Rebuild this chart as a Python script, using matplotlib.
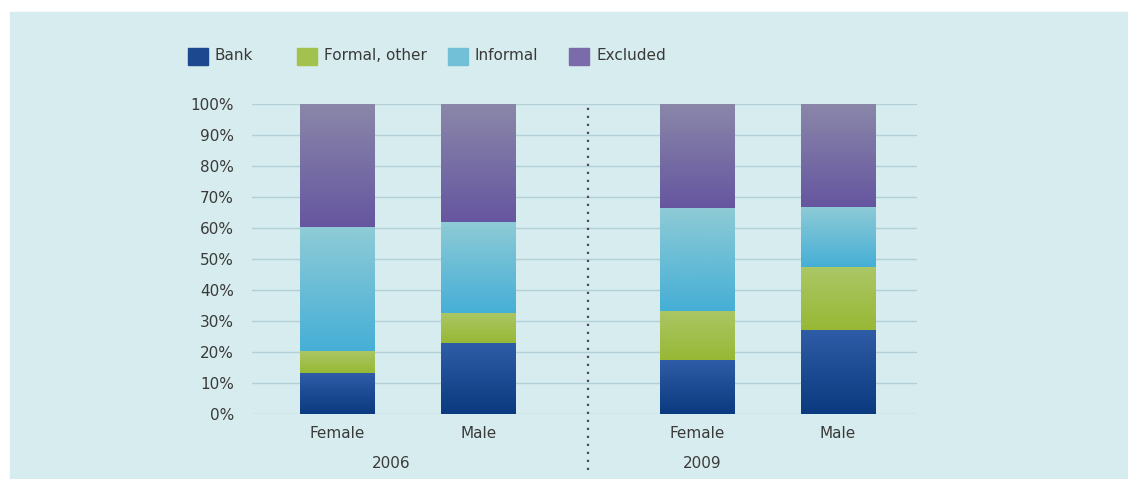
import numpy as np
import matplotlib.pyplot as plt
from matplotlib.patches import Rectangle
from matplotlib.colors import LinearSegmentedColormap

# data (percent of adults)
years = ['2006', '2009']
genders = ['Female', 'Male', 'Female', 'Male']
bank = [13.2, 22.9, 17.4, 27.1]
formal_other = [7.2, 9.7, 15.9, 20.2]
informal = [39.9, 29.4, 33.0, 19.4]
excluded = [39.7, 38.0, 33.7, 33.3]

series = [('Bank', bank), ('Formal, other', formal_other),
          ('Informal', informal), ('Excluded', excluded)]
# (top colour, bottom colour) for the gradient fill of each series
grad = {
    'Bank': ('#2f5ca6', '#0b3a80'),
    'Formal, other': ('#abc766', '#97b835'),
    'Informal': ('#8ecbd6', '#46afd6'),
    'Excluded': ('#8a87a9', '#6656a0'),
}
legend_col = {'Bank': '#1c4890', 'Formal, other': '#a3c24d',
              'Informal': '#72c0d8', 'Excluded': '#7a6cab'}

W, H = 1128, 479
bg = '#d7ecee'
txt = '#3a3a3a'
fig = plt.figure(figsize=(W / 100, H / 100), dpi=100, facecolor='white')
fig.patches.append(Rectangle((10 / W, 0), 1, 1 - 12 / H,
                             transform=fig.transFigure, color=bg, zorder=-10))

ax = fig.add_axes([252 / W, 1 - 414 / H, 665 / W, 310 / H])
ax.set_facecolor('none')

x = np.array([0, 1, 2.55, 3.55])
width = 0.525
bottom = np.zeros(len(x))
for name, vals in series:
    top_c, bot_c = grad[name]
    cmap = LinearSegmentedColormap.from_list(name, [bot_c, top_c])
    bars = ax.bar(x, vals, width, bottom=bottom, color=top_c, linewidth=0,
                  label=name, zorder=2)
    for b in bars:
        bx, by = b.get_x(), b.get_y()
        bw, bh = b.get_width(), b.get_height()
        im = ax.imshow(np.linspace(0, 1, 100).reshape(-1, 1), cmap=cmap,
                       origin='lower', aspect='auto',
                       extent=(bx, bx + bw, by, by + bh), zorder=3)
        im.set_clip_path(b)
    bottom += np.array(vals)

ax.set_xlim(-0.603, 4.11)
ax.set_ylim(0, 100)
ax.set_yticks(range(0, 101, 10))
ax.set_yticklabels([f'{v}%' for v in range(0, 101, 10)])
ax.grid(axis='y', color='#b3d0d8', linewidth=1.0, zorder=0)
ax.set_axisbelow(True)
for s in ax.spines.values():
    s.set_visible(False)
ax.tick_params(axis='y', length=0, pad=13, labelsize=11, labelcolor=txt)
ax.set_xticks(x)
ax.set_xticklabels(genders)
ax.tick_params(axis='x', length=0, pad=9, labelsize=11, labelcolor=txt)

# year labels
for xp, yr in zip([0.38, 2.59], years):
    ax.text(xp, -16, yr, ha='center', va='center', fontsize=11,
            color=txt, clip_on=False)

# dotted divider between years
ax.axvline(1.78, ymin=-0.18, ymax=1, color='#4a4a5a', linestyle=(0, (1, 2.6)),
           linewidth=1.6, clip_on=False, zorder=1)

# legend, placed by hand to match the uneven spacing of the original
legend_x = [188, 297, 448, 569]
for (name, _), lx in zip(series, legend_x):
    fig.patches.append(Rectangle((lx / W, 1 - 65 / H), 20 / W, 17 / H,
                                 transform=fig.transFigure,
                                 color=legend_col[name]))
    fig.text((lx + 27) / W, 1 - 56 / H, name, ha='left', va='center',
             fontsize=11, color=txt)

fig.savefig('out.png', dpi=100, facecolor=fig.get_facecolor())
